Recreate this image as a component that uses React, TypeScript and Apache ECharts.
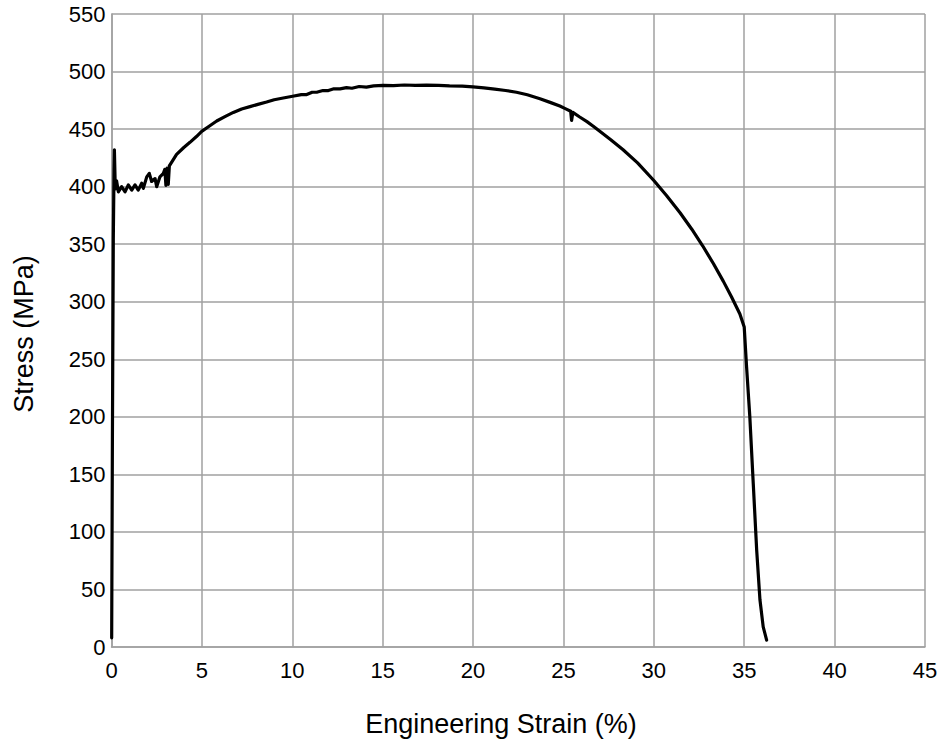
import React, { useEffect, useRef } from "react";
import * as echarts from "echarts";

// Engineering strain (%) and stress (MPa)
const strainPct: number[] = [
  0.01, 0.05, 0.1, 0.14, 0.16, 0.21, 0.28, 0.38, 0.56, 0.75, 0.93, 1.12, 1.3, 1.48, 1.67, 1.76,
  1.95, 2.09, 2.22, 2.41, 2.5, 2.68, 2.87, 2.95, 3.01, 3.08, 3.14, 3.2, 3.6, 4.0, 4.34, 4.7,
  4.99, 5.4, 5.82, 6.3, 6.74, 7.2, 7.66, 8.1, 8.58, 9.0, 9.5, 10.02, 10.5, 10.8, 11.1, 11.35,
  11.7, 12.0, 12.3, 12.64, 13.0, 13.3, 13.7, 14.1, 14.5, 15.03, 15.6, 16.2, 16.8, 17.43, 18.1,
  18.7, 19.4, 20.0, 20.6, 21.2, 21.8, 22.4, 23.0, 23.7, 24.3, 24.8, 25.1, 25.4, 25.45, 25.52,
  25.9, 26.3, 26.65, 27.1, 27.6, 28.3, 29.1, 30.0, 30.7, 31.45, 32.1, 32.7, 33.3, 33.84, 34.3,
  34.76, 35.0, 35.13, 35.31, 35.5, 35.69, 35.87, 36.05, 36.24,
];
const stressMPa: number[] = [
  8, 180, 354, 415, 432, 398, 405, 395.5, 400, 395.5, 401.5, 397, 401.5, 397, 403, 398.5,
  408.5, 411.5, 404.5, 407, 400, 408.5, 411.5, 415, 401, 416, 402, 418, 428, 434, 438.5, 443.5,
  448, 452.5, 457, 461, 464.5, 467.5, 469.5, 471.5, 473.5, 475.5, 477, 478.5, 480, 480, 482, 482,
  483.5, 483.5, 485, 485, 486, 485.5, 487, 486.5, 487.5, 488, 487.8, 488.3, 488, 488.2, 488,
  487.6, 487.4, 486.6, 485.8, 484.7, 483.5, 482, 479.8, 476.4, 473, 470, 467.8, 465.5, 457.5, 464.5,
  460.5, 456.5, 452.5, 447, 441, 432, 420.6, 405.3, 392.3, 377.3, 363, 348.6, 333, 317.9, 304.1,
  289.4, 278, 243.5, 200, 142, 84, 41, 17.5, 6,
];

const xName = "Engineering Strain (%)";
const yName = "Stress (MPa)";
const xMin = 0, xMax = 45, xStep = 5;
const yMin = 0, yMax = 550, yStep = 50;

const FONT = "Liberation Sans, Arial, sans-serif";
const GRID = "#a0a0a0";

export default function App() {
  const ref = useRef<HTMLDivElement>(null);
  useEffect(() => {
    if (!ref.current) return;
    const chart = echarts.init(ref.current, null, { renderer: "svg" });
    const data = strainPct.map((x, i) => [x, stressMPa[i]]);
    chart.setOption({
      animation: false,
      backgroundColor: "#ffffff",
      grid: { left: 111.5, right: 16, top: 14, bottom: 97, outerBoundsMode: "none" },
      graphic: [
        {
          type: "text",
          x: 501,
          y: 724,
          style: {
            text: xName,
            fontFamily: FONT,
            fontSize: 27,
            fill: "#000",
            align: "center",
            verticalAlign: "middle",
          },
        },
        {
          type: "text",
          x: 24,
          y: 334,
          rotation: Math.PI / 2,
          style: {
            text: yName,
            fontFamily: FONT,
            fontSize: 27,
            fill: "#000",
            align: "center",
            verticalAlign: "middle",
          },
        },
      ],
      xAxis: {
        type: "value",
        min: xMin,
        max: xMax,
        interval: xStep,
        axisLine: { show: true, lineStyle: { color: GRID, width: 1.5 } },
        axisTick: { show: false },
        axisLabel: { fontFamily: FONT, fontSize: 22, color: "#000", margin: 12 },
        splitLine: { show: true, lineStyle: { color: GRID, width: 1.5 } },
      },
      yAxis: {
        type: "value",
        min: yMin,
        max: yMax,
        interval: yStep,
        axisLine: { show: true, lineStyle: { color: GRID, width: 1.5 } },
        axisTick: { show: false },
        axisLabel: { fontFamily: FONT, fontSize: 22, color: "#000", margin: 6 },
        splitLine: { show: true, lineStyle: { color: GRID, width: 1.5 } },
      },
      series: [
        {
          type: "line",
          data,
          showSymbol: false,
          symbol: "none",
          clip: true,
          lineStyle: { color: "#000", width: 3.2, join: "round", cap: "round" },
        },
      ],
    });
    return () => chart.dispose();
  }, []);
  return (
    <div
      ref={ref}
      style={{ position: "fixed", left: 0, top: 0, width: 941, height: 744, background: "#fff" }}
    />
  );
}
